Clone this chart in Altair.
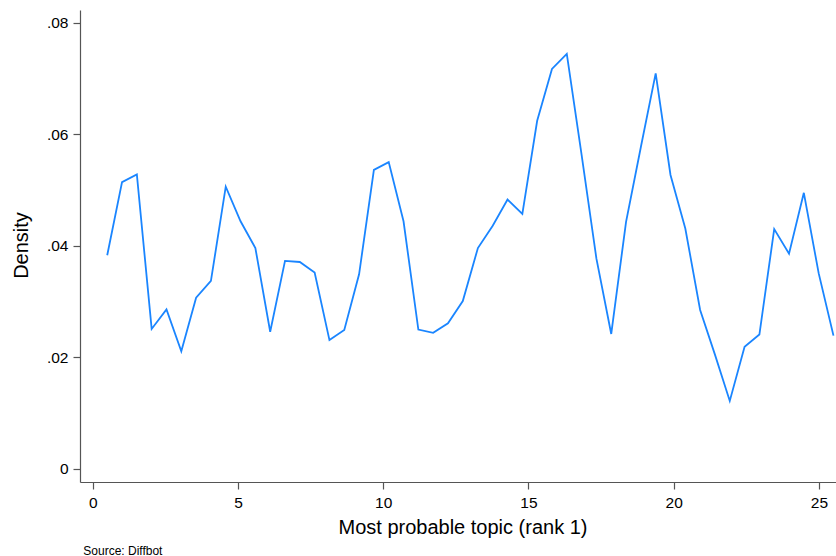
import altair as alt
import pandas as pd

# Evaluation points (most probable topic, rank 1)
topic = [0.50, 1.01, 1.52, 2.03, 2.54, 3.05, 3.56, 4.07, 4.58, 5.09,
         5.60, 6.11, 6.62, 7.13, 7.64, 8.15, 8.66, 9.17, 9.68, 10.19,
         10.70, 11.21, 11.72, 12.23, 12.74, 13.26, 13.77, 14.28, 14.79, 15.30,
         15.81, 16.32, 16.83, 17.34, 17.85, 18.36, 18.87, 19.38, 19.89, 20.40,
         20.91, 21.42, 21.93, 22.44, 22.95, 23.46, 23.97, 24.48, 24.99, 25.50]

# Kernel density estimates
density = [0.0383, 0.0514, 0.0528, 0.0251, 0.0286, 0.0211, 0.0307, 0.0337, 0.0506, 0.0444,
           0.0396, 0.0246, 0.0373, 0.0371, 0.0352, 0.0231, 0.0249, 0.0349, 0.0536, 0.0550,
           0.0444, 0.0250, 0.0244, 0.0261, 0.0301, 0.0396, 0.0436, 0.0483, 0.0457, 0.0624,
           0.0717, 0.0744, 0.0563, 0.0377, 0.0242, 0.0443, 0.0577, 0.0709, 0.0527, 0.0431,
           0.0285, 0.0205, 0.0122, 0.0219, 0.0241, 0.0430, 0.0386, 0.0495, 0.0351, 0.0239]

x_ticks = [0, 5, 10, 15, 20, 25]
y_ticks = [0, 0.02, 0.04, 0.06, 0.08]
source_note = ["Source: Diffbot"]

df = pd.DataFrame({"topic": topic, "density": density})
FONT = "Liberation Sans"

line = alt.Chart(df).mark_line(color="#1a85ff", strokeWidth=1.8).encode(
    x=alt.X("topic:Q",
            scale=alt.Scale(domain=[-0.437, 25.587], nice=False, zero=False),
            axis=alt.Axis(values=x_ticks, format="d", grid=False,
                          title="Most probable topic (rank 1)",
                          titleFontSize=20, titleFontWeight="normal", titleFont=FONT,
                          titleX=382.5, titleY=51, titleAlign="center",
                          titleBaseline="alphabetic", titleColor="black",
                          labelFontSize=15.5, labelFont=FONT, labelColor="black",
                          labelPadding=6, tickSize=7, tickColor="#555", tickWidth=1.2,
                          domainColor="#555", domainWidth=1.2)),
    y=alt.Y("density:Q",
            scale=alt.Scale(domain=[-0.00233, 0.08226], nice=False, zero=False),
            axis=alt.Axis(values=y_ticks, grid=False,
                          labelExpr="datum.value == 0 ? '0' : substring(format(datum.value, '.2f'), 1)",
                          title="Density",
                          titleFontSize=20, titleFontWeight="normal", titleFont=FONT,
                          titleX=-53, titleY=235, titleAlign="center", titleAngle=270,
                          titleBaseline="alphabetic", titleColor="black",
                          labelFontSize=15.5, labelFont=FONT, labelColor="black",
                          labelPadding=5, tickSize=7, tickColor="#555", tickWidth=1.2,
                          domainColor="#555", domainWidth=1.2)),
)

note = alt.Chart(pd.DataFrame({"t": source_note})).mark_text(
    align="left", baseline="alphabetic", fontSize=12, font=FONT, color="black"
).encode(x=alt.value(3.3), y=alt.value(544.5), text="t:N")

chart = alt.layer(line, note).properties(
    width=756, height=472,
    autosize=alt.AutoSizeParams(type="none"),
    padding={"left": 80, "top": 10, "right": 0, "bottom": 74},
    background="white",
).configure_view(stroke=None)

chart.save("out.html", embed_options={"renderer": "svg", "actions": False})
